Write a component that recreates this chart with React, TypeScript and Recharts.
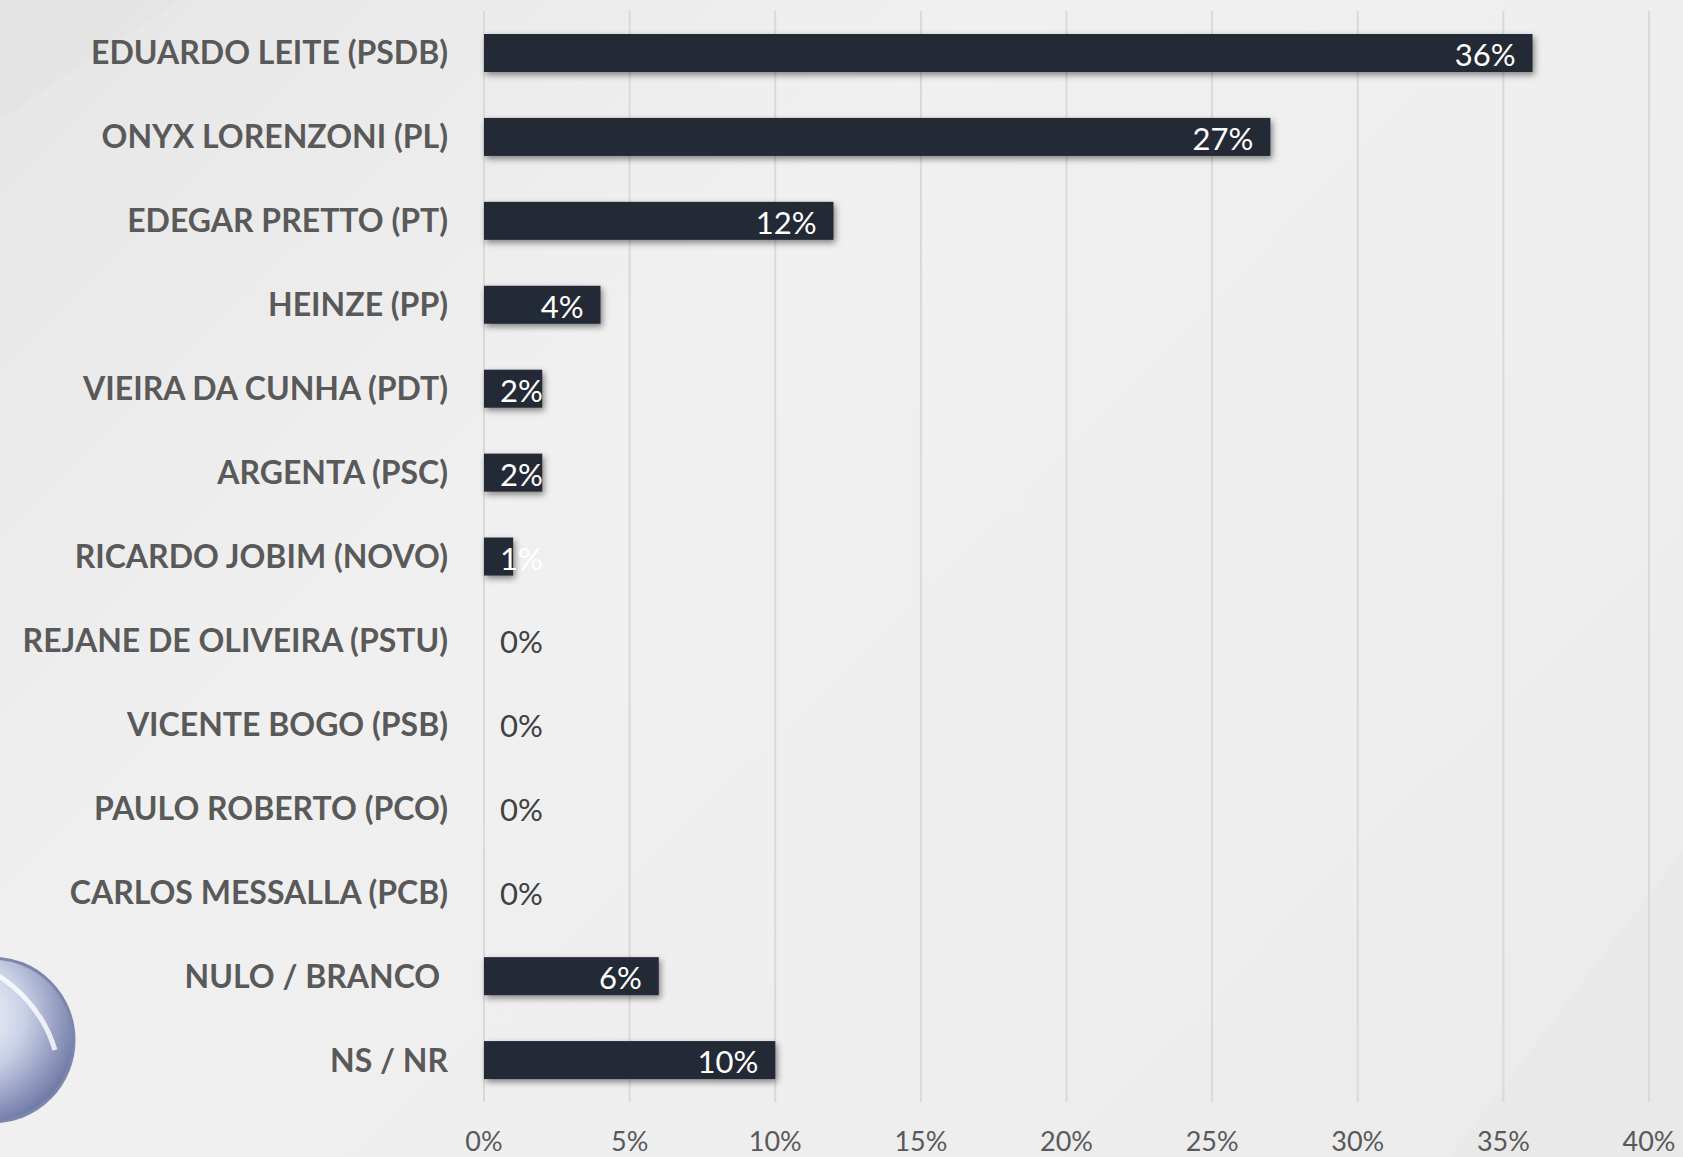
import React from "react";
import { BarChart, Bar, XAxis, YAxis, CartesianGrid, LabelList } from "recharts";

const categories = [
  "EDUARDO LEITE (PSDB)",
  "ONYX LORENZONI (PL)",
  "EDEGAR PRETTO (PT)",
  "HEINZE (PP)",
  "VIEIRA DA CUNHA (PDT)",
  "ARGENTA (PSC)",
  "RICARDO JOBIM (NOVO)",
  "REJANE DE OLIVEIRA (PSTU)",
  "VICENTE BOGO (PSB)",
  "PAULO ROBERTO (PCO)",
  "CARLOS MESSALLA (PCB)",
  "NULO / BRANCO ",
  "NS / NR",
];
const values = [36, 27, 12, 4, 2, 2, 1, 0, 0, 0, 0, 6, 10];
const xTicks = [0, 5, 10, 15, 20, 25, 30, 35, 40];

const data = categories.map((name, i) => ({ name, value: values[i] }));

const W = 1683;
const H = 1157;
const FONT = "Lato, 'Open Sans', sans-serif";
const LABEL_FS = 31;

let ctx: CanvasRenderingContext2D | null = null;
function measure(text: string, font: string): number {
  if (!ctx) {
    const c = document.createElement("canvas");
    ctx = c.getContext("2d");
  }
  if (!ctx) return text.length * LABEL_FS * 0.6;
  ctx.font = font;
  return ctx.measureText(text).width;
}

const YTick = (props: any) => {
  const { y, payload } = props;
  return (
    <text
      x={448}
      y={y - 1}
      textAnchor="end"
      dominantBaseline="central"
      fill="#595959"
      fontFamily={FONT}
      fontWeight={700}
      fontSize={32}
      style={{ whiteSpace: "pre" }}
    >
      {payload.value}
    </text>
  );
};

const XTick = (props: any) => {
  const { x, payload } = props;
  return (
    <text
      x={x}
      y={1140}
      textAnchor="middle"
      dominantBaseline="central"
      fill="#595959"
      fontFamily={FONT}
      fontSize={27}
    >
      {`${payload.value}%`}
    </text>
  );
};

const ValueLabel = (props: any) => {
  const { x, y, width, height, value } = props;
  const text = `${value}%`;
  const w = measure(text, `${LABEL_FS}px Lato`);
  const right = x + width - 17;
  const left = Math.max(right - w, x + 16);
  return (
    <text
      x={left}
      y={y + height / 2 + 1}
      textAnchor="start"
      dominantBaseline="central"
      fill={value > 0 ? "#ffffff" : "#404040"}
      fontFamily={FONT}
      fontSize={LABEL_FS}
    >
      {text}
    </text>
  );
};

const ShadowBar = (props: any) => {
  const { x, y, width, height } = props;
  if (!width || width <= 0) return null;
  return (
    <rect
      x={x}
      y={y}
      width={width}
      height={height}
      fill="#232a35"
      style={{ filter: "drop-shadow(2px 3px 3px rgba(0,0,0,0.45))" }}
    />
  );
};

export default function App() {
  return (
    <div
      style={{
        position: "absolute",
        left: 0,
        top: 0,
        width: W,
        height: H,
        overflow: "hidden",
        background: "linear-gradient(135deg, #e6e6e6 0%, #f0f0f0 35%, #eeeeee 70%, #ebebeb 100%)",
      }}
    >
      <svg width={W} height={H} style={{ position: "absolute", left: 0, top: 0 }}>
        <defs>
          <radialGradient id="logo" cx="35%" cy="35%" r="70%">
            <stop offset="0%" stopColor="#ffffff" />
            <stop offset="50%" stopColor="#c9d0e6" />
            <stop offset="100%" stopColor="#6f7aa6" />
          </radialGradient>
        </defs>
        <polygon points="0,0 180,0 0,120" fill="#e2e2e2" opacity={0.6} />
        <polygon points="1450,1157 1683,850 1683,1157" fill="#e8e8e8" opacity={0.6} />
        <circle cx={-8} cy={1040} r={82} fill="url(#logo)" stroke="#7d86ad" strokeWidth={3} />
        <path d="M -10 970 Q 40 1000 55 1050" fill="none" stroke="#ffffff" strokeWidth={5} opacity={0.8} />
      </svg>
      <div style={{ position: "absolute", left: 0, top: 0 }}>
        <BarChart
          width={W}
          height={H}
          data={data}
          layout="vertical"
          margin={{ top: 11, right: 34, bottom: 0, left: 0 }}
          barSize={38}
        >
          <CartesianGrid horizontal={false} vertical={true} stroke="#d9d9d9" strokeWidth={2} />
          <XAxis
            type="number"
            domain={[0, 40]}
            ticks={xTicks}
            axisLine={false}
            tickLine={false}
            height={55}
            tick={<XTick />}
            interval={0}
          />
          <YAxis
            type="category"
            dataKey="name"
            width={484}
            axisLine={false}
            tickLine={false}
            tick={<YTick />}
            interval={0}
          />
          <Bar dataKey="value" isAnimationActive={false} shape={<ShadowBar />}>
            <LabelList dataKey="value" content={<ValueLabel />} />
          </Bar>
        </BarChart>
      </div>
    </div>
  );
}
